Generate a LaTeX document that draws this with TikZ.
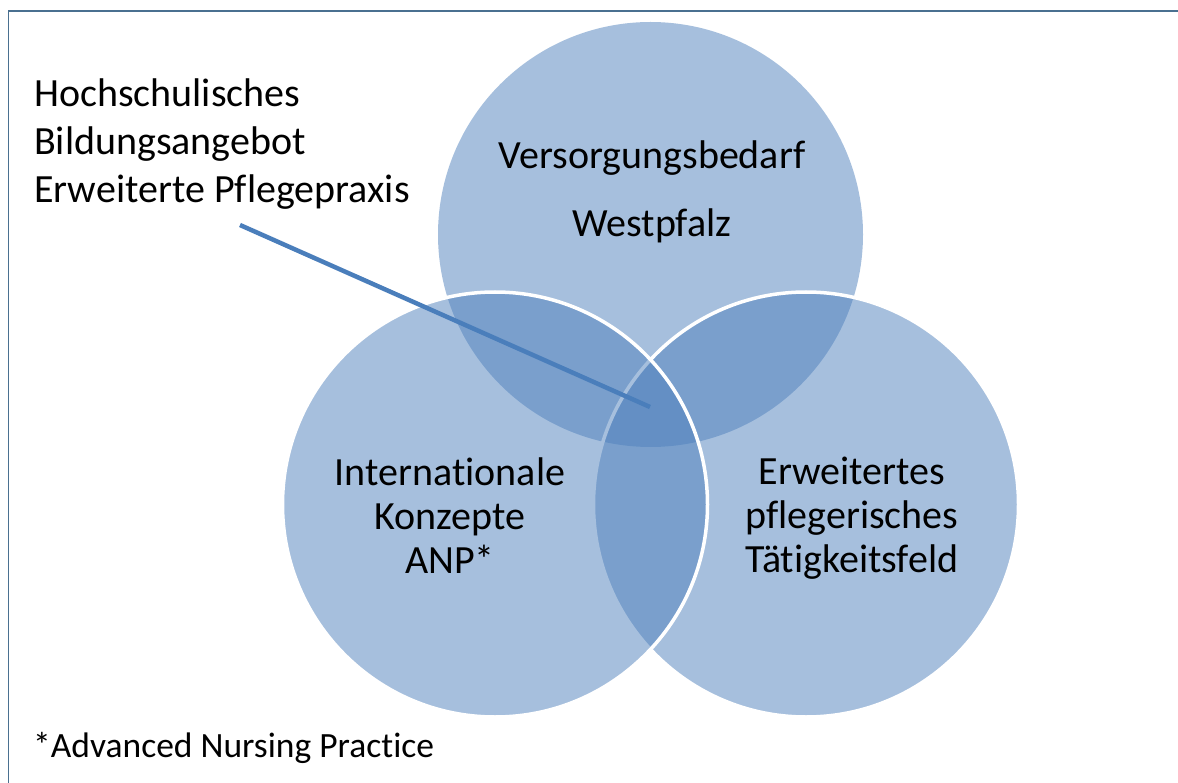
\documentclass[tikz,border=0pt]{standalone}
\usepackage{fontspec}
\setmainfont[Ligatures=NoCommon]{Carlito}
\definecolor{vfill}{HTML}{4F81BD}
\definecolor{pointer}{HTML}{4A7EBB}
\definecolor{frame}{HTML}{4A7090}
\tikzset{
  venn/.style={fill=vfill, fill opacity=0.5},
  vennedge/.style={venn, draw=white, draw opacity=1, line width=3.5pt},
  lbl/.style={inner sep=0pt, anchor=base, align=center, text=black},
  big/.style={font=\fontsize{40}{44}\selectfont},
}
\begin{document}
\begin{tikzpicture}[x=1pt,y=-1pt]
\useasboundingbox (0,0) rectangle (1178,783);
\fill[white] (0,0) rectangle (1178,783);
\draw[frame, line width=1.8pt] (8.5,783) -- (8.5,11) -- (1178,11);
% circles
\fill[venn] (650.5,234.5) circle[radius=212.5];
\filldraw[vennedge] (806,504.5) circle[radius=212.5];
\filldraw[vennedge] (495,504.5) circle[radius=212.5];
% labels (base anchor = baseline of the last line)
\node[lbl, font=\fontsize{40}{68}\selectfont] (top) at (652,237) {Versorgungsbedarf\\Westpfalz};
\node[lbl, big] (left) at (450,573) {Internationale\\Konzepte\\ANP*};
\node[lbl, big] (right) at (852,572) {Erweitertes\\pflegerisches\\Tätigkeitsfeld};
\node[lbl, anchor=base west, align=left, font=\fontsize{40}{48}\selectfont] (hs) at (34,203) {Hochschulisches\\Bildungsangebot\\Erweiterte Pflegepraxis};
\node[lbl, anchor=base west, font=\fontsize{35.5}{42}\selectfont] (fn) at (33,757) {*Advanced Nursing Practice};
% pointer
\coordinate (p0) at (240,225);
\coordinate (p1) at (650,407);
\draw[pointer, line width=4.5pt] (p0) -- (p1);
\end{tikzpicture}
\end{document}
